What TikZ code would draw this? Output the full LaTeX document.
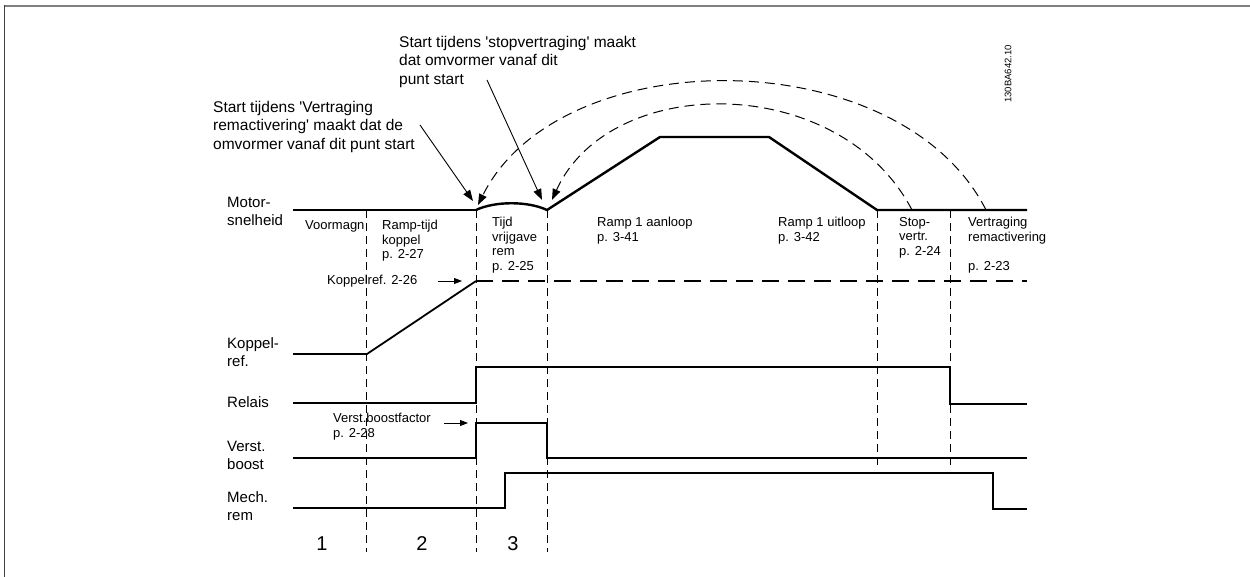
\documentclass[tikz,border=0pt]{standalone}
\usepackage{xcolor}
\usepackage{fontspec}
\setmainfont{Liberation Sans}[Ligatures=TeXOff]
\usetikzlibrary{arrows.meta,positioning,calc}

\tikzset{
  signal/.style={line width=1.8pt},
  period/.style={line width=0.9pt, dash pattern=on 8pt off 5pt},
  lbl/.style={inner sep=0pt, anchor=north west, align=left, font=\fontsize{13}{14.5}\selectfont},
  siglabel/.style={inner sep=0pt, anchor=west, align=left, font=\fontsize{15}{18}\selectfont},
  note/.style={inner sep=0pt, anchor=north west, align=left, font=\fontsize{15.5}{18.5}\selectfont},
  pointer/.style={line width=0.9pt, -{Triangle[length=11pt,width=8pt]}},
  restart/.style={line width=1pt, dash pattern=on 10pt off 6pt, -{Triangle[length=11pt,width=8pt]}}
}

\begin{document}
\begin{tikzpicture}[x=1pt, y=-1pt]
\useasboundingbox (0,0) rectangle (1250,577);
% frame
\draw[gray, line width=2pt] (4,6) -- (1250,6);
\draw[darkgray, line width=1.8pt] (4.5,5) -- (4.5,577);

% signal names
\node[siglabel] (motorlbl) at (227,211) {Motor-\\snelheid};
\node[siglabel] (koppellbl) at (227,352) {Koppel-\\ref.};
\node[siglabel] (relaislbl) at (227,402) {Relais};
\node[siglabel] (boostlbl) at (227,455) {Verst.\\boost};
\node[siglabel] (remlbl) at (227,506) {Mech.\\rem};

% period borders
\foreach \t in {366,476,547} \draw[period] (\t,210) -- (\t,552);
\foreach \t in {877,950} \draw[period] (\t,210) -- (\t,465);

% motor speed
\coordinate (brkstart) at (476,210);
\coordinate (brkend) at (547,210);
\draw[signal, line width=2.4pt] (293,210) -- (brkstart);
\draw[signal, line width=2.4pt] (brkstart) .. controls (495,201) and (528,201) .. (brkend)
  -- (660,137) -- (769,137) -- (877,210) -- (1027,210);

% torque reference
\draw[signal] (293,354) -- (367,354) -- (476,281);
\draw[signal, line width=2.4pt, dash pattern=on 17pt off 9pt] (476,281) -- (1027,281);
% relay
\draw[signal] (293,403) -- (476,403) -- (476,367) -- (950,367) -- (950,404) -- (1027,404);
% boost
\draw[signal] (293,458) -- (476,458) -- (476,423) -- (547,423) -- (547,458) -- (1027,458);
% mechanical brake
\draw[signal] (293,508) -- (505,508) -- (505,473) -- (993,473) -- (993,509) -- (1027,509);

% period texts
\node[lbl] (voormagn) at (305,220) {Voormagn};
\node[lbl] (ramptijd) at (382,220) {Ramp-tijd\\koppel\\p. 2-27};
\node[lbl] (tijdrem) at (492,217) {Tijd\\vrijgave\\rem\\p. 2-25};
\node[lbl] (aanloop) at (597,217) {Ramp 1 aanloop\\p. 3-41};
\node[lbl] (uitloop) at (778,217) {Ramp 1 uitloop\\p. 3-42};
\node[lbl] (stopvertr) at (899,217) {Stop-\\vertr.\\p. 2-24};
\node[lbl] (vertrrem) at (968,217) {Vertraging\\remactivering\\[15pt]p. 2-23};

% parameter pointers
\node[lbl, anchor=west] (kref) at (327,281) {Koppelref. 2-26};
\coordinate (krefarr) at (462,281);
\draw[line width=0.9pt, -{Triangle[length=8pt,width=6pt]}] ($(kref.east)+(20,0)$) -- (krefarr);
\node[lbl] (boostfac) at (333,413) {Verst.boostfactor\\p. 2-28};
\coordinate (boostarr) at (468,423);
\draw[line width=0.9pt, -{Triangle[length=8pt,width=6pt]}] (444,423) -- (boostarr);

% notes
\node[note] (stopnote) at (399,36) {Start tijdens 'stopvertraging' maakt\\dat omvormer vanaf dit\\punt start};
\node[note] (vertrnote) at (213,101) {Start tijdens 'Vertraging\\remactivering' maakt dat de\\omvormer vanaf dit punt start};
\coordinate (stopfrom) at (487,80);
\coordinate (vertrfrom) at (420,125);
\draw[pointer] (vertrfrom) -- (473,201);
\draw[pointer] (stopfrom) -- (542,200);

% restart arcs
\coordinate (outerstart) at (986,210);
\coordinate (innerstart) at (912,210);
\draw[restart] (outerstart) .. controls (900,40) and (560,40) .. (478,205);
\draw[restart] (innerstart) .. controls (840,72) and (610,72) .. (552,200);

% phases
\node[font=\fontsize{20}{24}\selectfont] (ph1) at (322,544) {1};
\node[font=\fontsize{20}{24}\selectfont] (ph2) at (422,544) {2};
\node[font=\fontsize{20}{24}\selectfont] (ph3) at (513,544) {3};

\node[rotate=90, font=\fontsize{9.5}{11}\selectfont] (docid) at (1008,74) {130BA642.10};
\end{tikzpicture}
\end{document}
